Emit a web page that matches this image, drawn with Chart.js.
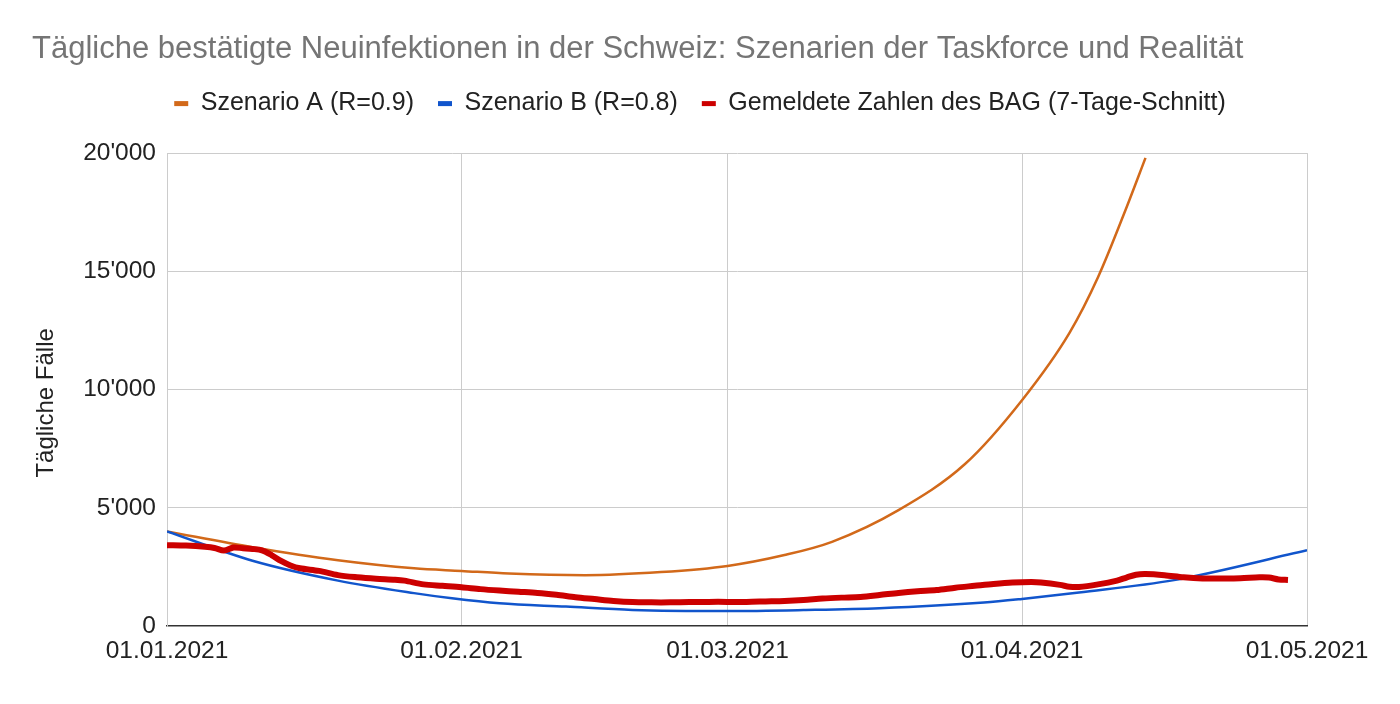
<!DOCTYPE html>
<html>
<head>
<meta charset="utf-8">
<script src="https://cdn.jsdelivr.net/npm/chart.js@4/dist/chart.umd.min.js"></script>
<style>
  body { margin: 0; background: #fff; }
</style>
</head>
<body>
<canvas id="myChart" width="1400" height="704"></canvas>
<script>
'use strict'

// Data (x = days since 01.01.2021)

let xTickDays = [0, 31, 59, 90, 120];
let xTickLabels = ['01.01.2021', '01.02.2021', '01.03.2021', '01.04.2021', '01.05.2021'];
let yTicks = [0, 5000, 10000, 15000, 20000];

let seriesNames = ['Szenario A (R=0.9)', 'Szenario B (R=0.8)', 'Gemeldete Zahlen des BAG (7-Tage-Schnitt)'];

let daysA = [0, 9, 18, 26, 31, 36, 44, 52, 59, 65, 70, 77, 84, 90, 95, 98, 101, 103];
let valuesA = [4000, 3330, 2780, 2440, 2330, 2220, 2150, 2280, 2540, 3000, 3560, 4900, 6850, 9550, 12400, 14750, 17700, 19800];

let daysB = [0, 9, 18, 26, 30, 35, 42, 49, 59, 67, 75, 86, 90, 96, 106, 120];
let valuesB = [4000, 2760, 1920, 1390, 1170, 960, 820, 680, 635, 675, 750, 990, 1145, 1420, 1940, 3200];

let daysBag = [0, 2, 4, 5, 6, 7, 8, 9, 10, 11, 12, 13, 14, 16, 18, 20, 22, 24, 25, 27, 29, 31, 33, 35, 37, 39, 41, 43, 45, 47, 49, 51, 53, 55, 57, 59, 61, 63, 65, 67, 69, 71, 73, 75, 77, 79, 81, 83, 85, 87, 89, 91, 92, 94, 95, 96, 98, 100, 101, 102, 103, 105, 107, 109, 111, 113, 115, 116, 117, 118];
let valuesBag = [3420, 3400, 3350, 3300, 3190, 3320, 3290, 3260, 3200, 3000, 2750, 2560, 2440, 2330, 2150, 2060, 2000, 1960, 1920, 1760, 1700, 1640, 1560, 1500, 1450, 1400, 1320, 1220, 1140, 1060, 1010, 1000, 1000, 1010, 1020, 1020, 1020, 1040, 1060, 1100, 1160, 1200, 1230, 1310, 1400, 1470, 1520, 1620, 1700, 1780, 1840, 1860, 1840, 1740, 1660, 1650, 1760, 1920, 2050, 2170, 2200, 2150, 2060, 2010, 2010, 2020, 2060, 2050, 1970, 1950];

// Helpers

function toPoints(days, values) {
  let pts = [];
  for (let i = 0; i < days.length; i++) {
    pts.push({ x: days[i], y: values[i] });
  }
  return pts;
}

function formatThousands(v) {
  return String(v).replace(/\B(?=(\d{3})+(?!\d))/g, "'");
}

const FONT = "'Liberation Sans', Arial, sans-serif";

// move legend to the page centre and give it room below
const legendTweak = {
  id: 'legendTweak',
  beforeInit(chart) {
    const legend = chart.legend;
    const origFit = legend.fit;
    legend.fit = function () {
      origFit.call(this);
      this.height += 27;
    };
  },
  afterLayout(chart) {
    chart.legend.left = 0;
    chart.legend.right = chart.width;
  }
};

const data = {
  datasets: [
    {
      label: seriesNames[0],
      data: toPoints(daysA, valuesA),
      borderColor: '#d2691a',
      backgroundColor: '#d2691a',
      borderWidth: 2.5,
      cubicInterpolationMode: 'monotone',
      pointRadius: 0,
      order: 2
    },
    {
      label: seriesNames[1],
      data: toPoints(daysB, valuesB),
      borderColor: '#1155cc',
      backgroundColor: '#1155cc',
      borderWidth: 2.5,
      cubicInterpolationMode: 'monotone',
      pointRadius: 0,
      order: 1
    },
    {
      label: seriesNames[2],
      data: toPoints(daysBag, valuesBag),
      borderColor: '#cc0000',
      backgroundColor: '#cc0000',
      borderWidth: 6,
      tension: 0.3,
      pointRadius: 0,
      order: 0
    }
  ]
};

const config = {
  type: 'line',
  data: data,
  plugins: [legendTweak],
  options: {
    responsive: false,
    animation: false,
    layout: {
      padding: { left: 32, right: 93, top: 0, bottom: 0 }
    },
    plugins: {
      title: {
        display: true,
        text: 'Tägliche bestätigte Neuinfektionen in der Schweiz: Szenarien der Taskforce und Realität',
        align: 'start',
        color: '#757575',
        font: { family: FONT, size: 31, weight: 'normal', lineHeight: 1.1 },
        padding: { top: 32, bottom: 1 }
      },
      legend: {
        position: 'top',
        labels: {
          color: '#222',
          font: { family: FONT, size: 25 },
          boxWidth: 14,
          boxHeight: 5,
          padding: 24,
          sort: (a, b) => a.datasetIndex - b.datasetIndex,
          generateLabels(chart) {
            let items = Chart.defaults.plugins.legend.labels.generateLabels(chart);
            items.forEach(it => { it.lineWidth = 0; });
            return items;
          }
        }
      },
      tooltip: { enabled: false }
    },
    scales: {
      x: {
        type: 'linear',
        min: 0,
        max: 120,
        afterBuildTicks(scale) {
          scale.ticks = xTickDays.map(v => ({ value: v }));
        },
        afterFit(scale) {
          scale.height = 78;
        },
        ticks: {
          color: '#222',
          font: { family: FONT, size: 24.5 },
          padding: 11,
          maxRotation: 0,
          autoSkip: false,
          callback: (v) => xTickLabels[xTickDays.indexOf(v)]
        },
        grid: {
          color: '#cccccc',
          drawTicks: false
        },
        border: { color: '#333333', width: 1.5 }
      },
      y: {
        min: 0,
        max: 20000,
        afterBuildTicks(scale) {
          scale.ticks = yTicks.map(v => ({ value: v }));
        },
        afterFit(scale) {
          scale.width = 135;
        },
        ticks: {
          color: '#222',
          font: { family: FONT, size: 24.5 },
          padding: 11,
          callback: (v) => formatThousands(v)
        },
        grid: {
          color: (ctx) => ctx.tick && ctx.tick.value === 0 ? 'rgba(0,0,0,0)' : '#cccccc',
          drawTicks: false
        },
        border: { color: '#cccccc', width: 1 },
        title: {
          display: true,
          // trailing spaces nudge the rotated label a little lower, like the original
          text: 'Tägliche Fälle    ',
          color: '#222',
          font: { family: FONT, size: 24 },
          padding: 0
        }
      }
    }
  }
};

const myChart = new Chart(document.getElementById('myChart'), config);
</script>
</body>
</html>
